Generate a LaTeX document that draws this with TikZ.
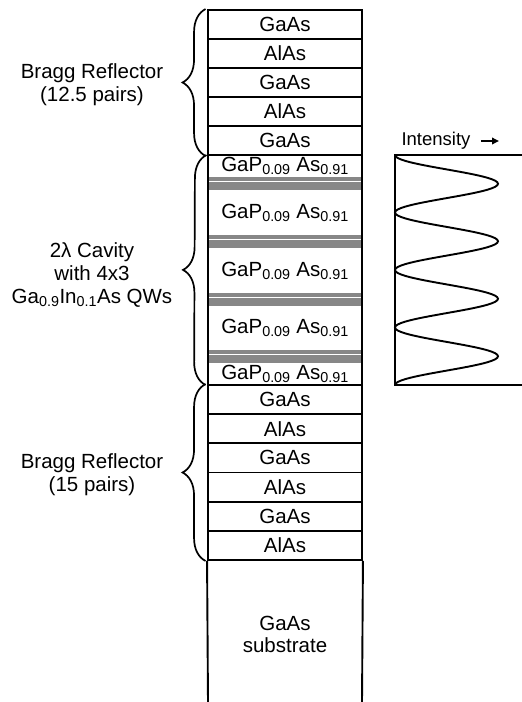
\documentclass[tikz,border=0pt]{standalone}
\usepackage{fontspec}
\setmainfont{Liberation Sans}
\usetikzlibrary{decorations.pathreplacing,arrows.meta}

\begin{document}
\begin{tikzpicture}[x=1pt, y=-1pt,
    edge/.style={line width=1.9pt},
    layer/.style={draw, line width=1.9pt, minimum width=154pt, inner sep=0pt, font=\fontsize{20.5}{22}\selectfont},
    gap/.style={align=center, font=\fontsize{20.5}{22}\selectfont},
    side/.style={align=center, font=\fontsize{20.5}{23}\selectfont},
    gbrace/.style={decorate, decoration={brace, amplitude=23pt}, line width=1.7pt}]
		% Defines colors to match the image
		\definecolor{qwgray}{RGB}{135,135,135} % gray of the quantum wells
		
		% --- Frame ---
		\useasboundingbox (0,0) rectangle (522,702);
		
		% --- Top mirror ---
		\foreach \m [count=\i] in {GaAs,AlAs,GaAs,AlAs,GaAs}
			\node[layer, minimum height=29pt] (t\i) at (285, {10+29*(\i-0.5)}) {\m};
		
		% --- Cavity ---
		\coordinate (cavNW) at (208,155);
		\coordinate (cavSE) at (362,385);
		\draw[edge] (cavNW) rectangle (cavSE);
		% Three wells per band, four bands
		\foreach \b in {177,235,293,350}
			\foreach \k in {0,1,2}
				\fill[qwgray] (209, {\b+\k*4.5}) rectangle (361, {\b+\k*4.5+4});
		\foreach \y [count=\i] in {166,212.5,270.5,328,374}
			\node[gap] (g\i) at (285,\y) {GaP\textsubscript{0.09} As\textsubscript{0.91}};
		
		% --- Bottom mirror ---
		\foreach \m [count=\i] in {GaAs,AlAs,GaAs,AlAs,GaAs,AlAs}
			\node[layer, minimum height=29.17pt] (b\i) at (285, {385+29.17*(\i-0.5)}) {\m};
		
		% --- Substrate ---
		\coordinate (subL) at (208,703);
		\coordinate (subR) at (362,703);
		\draw[edge] (b6.south west) -- (subL);
		\draw[edge] (b6.south east) -- (subR);
		\node[gap] (sub) at (285,634) {GaAs\\substrate};
		
		% --- Braces ---
		\draw[gbrace] ([xshift=-1.5pt]t5.south west) -- ([xshift=-1.5pt]t1.north west);
		\draw[gbrace] ([xshift=-1.5pt]b1.north west |- cavSE) -- ([xshift=-1.5pt]cavNW);
		\draw[gbrace] ([xshift=-1.5pt]b6.south west) -- ([xshift=-1.5pt]b1.north west);
		
		% --- Labels ---
		\node[side] (topLbl) at (92,84.5) {Bragg Reflector\\(12.5 pairs)};
		\node[side] (cavLbl) at (92,275) {2λ Cavity\\with 4x3\\Ga\textsubscript{0.9}In\textsubscript{0.1}As QWs};
		\node[side] (botLbl) at (92,474.5) {Bragg Reflector\\(15 pairs)};
		
		% --- Intensity profile ---
		\draw[edge] (522,155) -- (395,155) -- (395,385) -- (522,385);
		\draw[edge] plot[domain=0:4, samples=161, smooth] ({395+103*(sin(180*\x))^2}, {155+57.5*\x});
		\node[font=\fontsize{18.5}{20}\selectfont] (intens) at (436,141) {Intensity};
		\coordinate (arrEnd) at (499,141);
		\draw[line width=1.8pt, -{Triangle[length=7pt,width=6.5pt]}] ([xshift=7pt]intens.east) -- (arrEnd);
		
	\end{tikzpicture}
\end{document}
